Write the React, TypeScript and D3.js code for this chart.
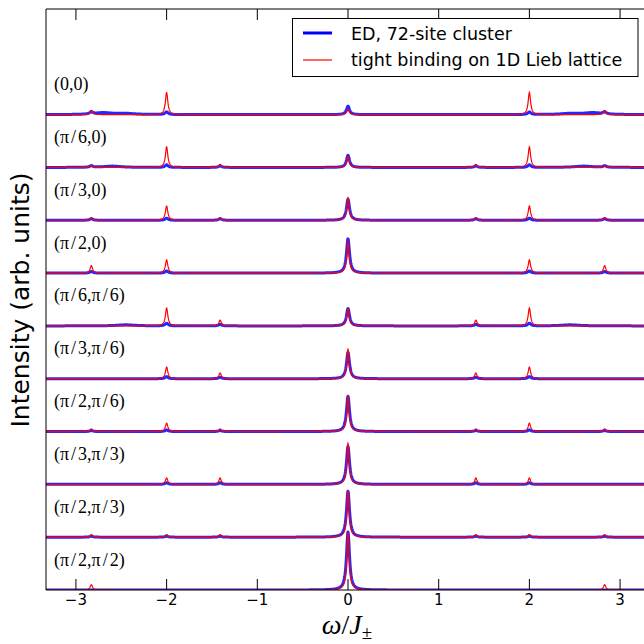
import React from 'react';
import * as d3 from 'd3';

// momentum labels, top to bottom
const panelLabels = [
  '(0,0)', '(π/6,0)', '(π/3,0)', '(π/2,0)', '(π/6,π/6)',
  '(π/3,π/6)', '(π/2,π/6)', '(π/3,π/3)', '(π/2,π/3)', '(π/2,π/2)',
];

// peak energies shared by all spectra
const peakPositions = [-2.83, -2, -1.41, 0, 1.41, 2, 2.83];

// tight binding (red) peak heights, one row per panel
const tbHeights = [
  [0.08, 0.42, 0, 0.10, 0, 0.42, 0.08],
  [0.04, 0.39, 0.06, 0.21, 0.06, 0.39, 0.04],
  [0.05, 0.27, 0.05, 0.43, 0.05, 0.27, 0.05],
  [0.14, 0.25, 0, 0.60, 0, 0.25, 0.14],
  [0, 0.34, 0.11, 0.33, 0.11, 0.34, 0],
  [0, 0.22, 0.11, 0.56, 0.11, 0.22, 0],
  [0.05, 0.16, 0.05, 0.67, 0.05, 0.16, 0.05],
  [0, 0.12, 0.12, 0.78, 0.12, 0.12, 0],
  [0.05, 0.05, 0.05, 0.87, 0.05, 0.05, 0.05],
  [0.10, 0, 0, 1.1, 0, 0, 0.10],
];

// ED (blue) peak heights
const edHeights = [
  [0.04, 0.05, 0, 0.16, 0, 0.05, 0.04],
  [0.03, 0.05, 0.03, 0.23, 0.03, 0.05, 0.03],
  [0.03, 0.04, 0.03, 0.40, 0.03, 0.04, 0.03],
  [0.03, 0.04, 0, 0.65, 0, 0.04, 0.03],
  [0, 0.05, 0.03, 0.33, 0.03, 0.05, 0],
  [0, 0.04, 0.03, 0.50, 0.03, 0.04, 0],
  [0.02, 0.03, 0.02, 0.67, 0.02, 0.03, 0.02],
  [0, 0.03, 0.03, 0.72, 0.03, 0.03, 0],
  [0.02, 0.02, 0.02, 0.87, 0.02, 0.02, 0.02],
  [0, 0, 0, 1.1, 0, 0, 0],
];

// broad ED continuum humps [energy, height]
const edHumps = [
  [[-2.7, 0.035], [-2.45, 0.02], [2.45, 0.02], [2.7, 0.035]],
  [[-2.6, 0.025], [2.6, 0.025]],
  [],
  [],
  [[-2.45, 0.02], [2.45, 0.02]],
  [],
  [],
  [],
  [],
  [],
];

const xTicks = [-3, -2, -1, 0, 1, 2, 3];

const W = 644;
const H = 644;
const left = 46, right = 650, top = 9, bottom = 590;

const lor = (w: number, x0: number, g: number) => (g * g) / ((w - x0) * (w - x0) + g * g);

// math-style label: widen slashes like mathtext does
const MathLabel = ({ x, y, text }: { x: number; y: number; text: string }) => (
  <text x={x} y={y} fontFamily="'Liberation Serif', serif" fontSize={18} fill="#000">
    {text.split('').map((c, k) => (
      <tspan key={k} dx={c === '/' ? 2 : (k > 0 && text[k - 1] === '/' ? 2 : 0)}>{c}</tspan>
    ))}
  </text>
);

export default function App() {
  const x = d3.scaleLinear().domain([-3.33, 3.33]).range([left, right]);
  const y = d3.scaleLinear().domain([0, 11]).range([bottom, top]);
  const grid = d3.range(-3.4, 3.4, 0.003);

  const line = d3.line<[number, number]>().x(d => x(d[0])).y(d => y(d[1]));

  const curve = (offset: number, heights: number[], g: number, humps: number[][]) =>
    line(grid.map(w => {
      let v = offset;
      heights.forEach((h, j) => { if (h) v += h * lor(w, peakPositions[j], g); });
      humps.forEach(([c, h]) => { v += h * lor(w, c, 0.12); });
      return [w, v] as [number, number];
    })) || '';

  return (
    <svg width={W} height={H} style={{ position: 'absolute', left: 0, top: 0, background: '#fff' }}>
      <defs>
        <clipPath id="plot">
          <rect x={left} y={top} width={right - left} height={bottom - top} />
        </clipPath>
      </defs>
      <rect x={0} y={0} width={W} height={H} fill="#fff" />
      <g clipPath="url(#plot)" fill="none">
        {panelLabels.map((_, i) => (
          <g key={i}>
            <path d={curve(9 - i, edHeights[i], 0.02, edHumps[i])} stroke="#0000ff" strokeWidth={3} strokeOpacity={0.85} strokeLinejoin="round" />
            <path d={curve(9 - i, tbHeights[i], 0.016, [])} stroke="#ff0000" strokeWidth={1.2} />
          </g>
        ))}
      </g>
      {panelLabels.map((lab, i) => (
        <MathLabel key={lab} x={54} y={y(9 - i) - 24.5} text={lab} />
      ))}
      {/* frame */}
      <line x1={left} x2={W} y1={top} y2={top} stroke="#000" strokeWidth={1} />
      <line x1={left} x2={W} y1={bottom} y2={bottom} stroke="#000" strokeWidth={1} />
      <line x1={left} x2={left} y1={top} y2={bottom} stroke="#000" strokeWidth={1} />
      {xTicks.map(t => (
        <g key={t}>
          <line x1={x(t)} x2={x(t)} y1={bottom} y2={bottom - 11} stroke="#000" strokeWidth={1} />
          <line x1={x(t)} x2={x(t)} y1={top} y2={top + 11} stroke="#000" strokeWidth={1} />
          <text x={x(t)} y={605} textAnchor="middle" fontFamily="'DejaVu Sans', sans-serif" fontSize={15} fill="#000">
            {t < 0 ? `\u2212${-t}` : `${t}`}
          </text>
        </g>
      ))}
      {/* axis titles */}
      <text x={347} y={634} textAnchor="middle" fontFamily="'Liberation Serif', serif" fontSize={28} fill="#000">
        <tspan fontStyle="italic">ω</tspan>
        <tspan>/</tspan>
        <tspan fontStyle="italic">J</tspan>
        <tspan fontSize={19} dy={5}>±</tspan>
      </text>
      <text transform="translate(29,300) rotate(-90)" textAnchor="middle" fontFamily="'DejaVu Sans', sans-serif" fontSize={25} fill="#000">
        Intensity (arb. units)
      </text>
      {/* legend */}
      <g>
        <rect x={292.5} y={18.5} width={345.5} height={58} fill="#fff" stroke="#000" strokeWidth={1} />
        <line x1={303} x2={332} y1={33} y2={33} stroke="#0000ff" strokeWidth={3} />
        <line x1={303} x2={332} y1={60} y2={60} stroke="#ff0000" strokeWidth={1.2} />
        <text x={351} y={39.5} fontFamily="'DejaVu Sans', sans-serif" fontSize={17.5} fill="#000">ED, 72-site cluster</text>
        <text x={351} y={66} fontFamily="'DejaVu Sans', sans-serif" fontSize={17.5} fill="#000">tight binding on 1D Lieb lattice</text>
      </g>
    </svg>
  );
}
